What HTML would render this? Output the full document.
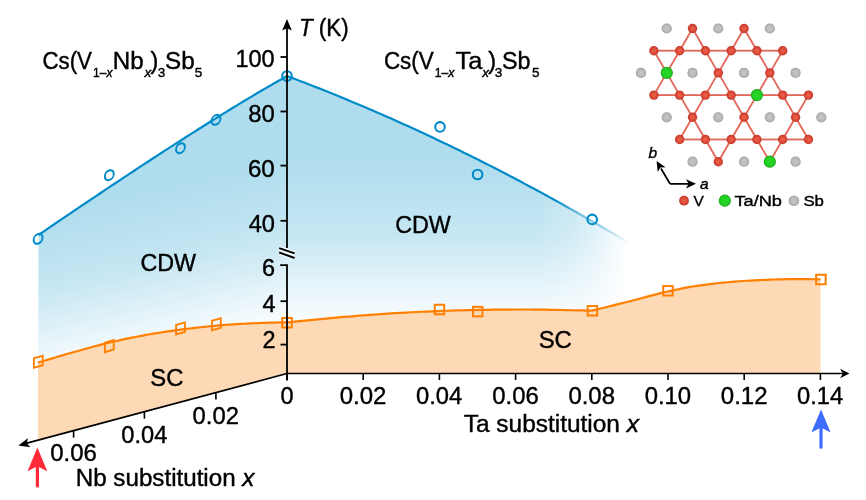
<!DOCTYPE html>
<html><head><meta charset="utf-8"><title>Phase diagram</title>
<style>html,body{margin:0;padding:0;background:#fff;width:866px;height:500px;overflow:hidden}svg{display:block;will-change:transform}</style>
</head><body>
<svg width="866" height="500" viewBox="0 0 866 500">
<defs>
<linearGradient id="gR" gradientUnits="userSpaceOnUse" x1="0" y1="160" x2="0" y2="328">
 <stop offset="0" stop-color="#b0ddee"/><stop offset="0.45" stop-color="#b0ddee" stop-opacity="0.72"/><stop offset="1" stop-color="#b0ddee" stop-opacity="0"/></linearGradient>
<linearGradient id="gL" gradientUnits="userSpaceOnUse" x1="287" y1="160" x2="322.3" y2="320.3">
 <stop offset="0" stop-color="#b0ddee"/><stop offset="0.45" stop-color="#b0ddee" stop-opacity="0.72"/><stop offset="1" stop-color="#b0ddee" stop-opacity="0"/></linearGradient>
<linearGradient id="gH" gradientUnits="userSpaceOnUse" x1="543" y1="0" x2="629" y2="0">
 <stop offset="0" stop-color="#fff"/><stop offset="0.001" stop-color="#fff" stop-opacity="0.94"/><stop offset="0.31" stop-color="#fff" stop-opacity="0.82"/><stop offset="0.55" stop-color="#fff" stop-opacity="0.6"/><stop offset="0.78" stop-color="#fff" stop-opacity="0.28"/><stop offset="1" stop-color="#fff" stop-opacity="0"/></linearGradient>
<linearGradient id="gHL" gradientUnits="userSpaceOnUse" x1="555" y1="0" x2="630" y2="0">
 <stop offset="0" stop-color="#fff"/><stop offset="0.33" stop-color="#fff" stop-opacity="0.5"/><stop offset="0.6" stop-color="#fff" stop-opacity="0.38"/><stop offset="1" stop-color="#fff" stop-opacity="0"/></linearGradient>
<mask id="mH" maskUnits="userSpaceOnUse" x="0" y="0" width="866" height="500"><rect x="0" y="0" width="866" height="500" fill="url(#gH)"/></mask>
<mask id="mHL" maskUnits="userSpaceOnUse" x="0" y="0" width="866" height="500"><rect x="0" y="0" width="866" height="500" fill="url(#gHL)"/></mask>
<radialGradient id="rr" cx="0.5" cy="0.5" r="0.5"><stop offset="0" stop-color="#ea6550"/><stop offset="0.6" stop-color="#dd4a37"/><stop offset="0.85" stop-color="#cf3f2e"/><stop offset="1" stop-color="#b53425"/></radialGradient>
<radialGradient id="rg" cx="0.5" cy="0.5" r="0.5"><stop offset="0" stop-color="#2ad82a"/><stop offset="0.7" stop-color="#22cf22"/><stop offset="0.88" stop-color="#1cb91c"/><stop offset="1" stop-color="#128f12"/></radialGradient>
<radialGradient id="rs" cx="0.5" cy="0.5" r="0.5"><stop offset="0" stop-color="#c6c6c6"/><stop offset="0.6" stop-color="#bcbcbc"/><stop offset="0.85" stop-color="#adadad"/><stop offset="1" stop-color="#9a9a9a"/></radialGradient>
</defs>
<path d="M287 76 L291.32 77.65 L295.63 79.28 L299.95 80.93 L304.27 82.59 L308.58 84.26 L312.9 85.94 L317.22 87.64 L321.53 89.35 L325.85 91.07 L330.16 92.8 L334.48 94.55 L338.8 96.3 L343.11 98.07 L347.43 99.86 L351.75 101.65 L356.06 103.46 L360.38 105.28 L364.7 107.11 L369.01 108.95 L373.33 110.81 L377.65 112.68 L381.96 114.56 L386.28 116.45 L390.59 118.36 L394.91 120.28 L399.23 122.21 L403.54 124.15 L407.86 126.11 L412.18 128.08 L416.49 130.06 L420.81 132.05 L425.13 134.06 L429.44 136.08 L433.76 138.11 L438.08 140.15 L442.39 142.2 L446.71 144.27 L451.03 146.35 L455.34 148.44 L459.66 150.55 L463.97 152.66 L468.29 154.79 L472.61 156.94 L476.92 159.09 L481.24 161.26 L485.56 163.44 L489.87 165.63 L494.19 167.83 L498.51 170.05 L502.82 172.28 L507.14 174.52 L511.46 176.77 L515.77 179.04 L520.09 181.31 L524.41 183.6 L528.72 185.91 L533.04 188.22 L537.35 190.55 L541.67 192.89 L545.99 195.24 L550.3 197.61 L554.62 199.98 L558.94 202.37 L563.25 204.78 L567.57 207.19 L571.89 209.62 L576.2 212.06 L580.52 214.51 L584.84 216.97 L589.15 219.45 L593.47 221.94 L597.78 224.44 L602.1 226.95 L606.42 229.48 L610.73 232.02 L615.05 234.57 L619.37 237.13 L623.68 239.71 L628 242.29 L640 260 L640 374 L287 374 Z" fill="url(#gR)" mask="url(#mH)"/>
<path d="M38.5 235 L43.9 231.31 L49.27 227.65 L54.59 224.03 L59.87 220.44 L65.11 216.89 L70.3 213.37 L75.46 209.88 L80.58 206.43 L85.65 203.02 L90.68 199.63 L95.68 196.29 L100.63 192.97 L105.54 189.69 L110.41 186.45 L115.23 183.24 L120.02 180.06 L124.77 176.92 L129.47 173.81 L134.14 170.74 L138.76 167.7 L143.34 164.7 L147.88 161.73 L152.38 158.79 L156.84 155.89 L161.26 153.02 L165.63 150.19 L169.97 147.39 L174.26 144.63 L178.51 141.9 L182.73 139.21 L186.9 136.55 L191.03 133.92 L195.11 131.33 L199.16 128.77 L203.17 126.25 L207.13 123.76 L211.06 121.3 L214.94 118.88 L218.78 116.5 L222.59 114.15 L226.35 111.83 L230.06 109.55 L233.74 107.3 L237.38 105.09 L240.97 102.91 L244.53 100.76 L248.04 98.65 L251.51 96.57 L254.95 94.53 L258.34 92.52 L261.69 90.55 L264.99 88.61 L268.26 86.71 L271.49 84.84 L274.67 83 L277.82 81.2 L280.92 79.43 L283.98 77.7 L287 76 L287 374 L38 440.23 Z" fill="url(#gL)"/>
<path d="M287 322.4 L292.17 321.88 L297.34 321.37 L302.51 320.85 L307.68 320.34 L312.85 319.83 L318.02 319.33 L323.19 318.84 L328.36 318.35 L333.53 317.88 L338.69 317.42 L343.86 316.97 L349.03 316.53 L354.2 316.1 L359.37 315.69 L364.54 315.29 L369.71 314.9 L374.88 314.52 L380.05 314.16 L385.22 313.81 L390.39 313.47 L395.56 313.15 L400.73 312.85 L405.9 312.55 L411.07 312.27 L416.24 312.01 L421.41 311.76 L426.58 311.53 L431.75 311.31 L436.92 311.11 L442.08 310.92 L447.25 310.75 L452.42 310.59 L457.59 310.44 L462.76 310.31 L467.93 310.18 L473.1 310.07 L478.27 309.97 L483.44 309.87 L488.61 309.79 L493.78 309.72 L498.95 309.65 L504.12 309.59 L509.29 309.55 L514.46 309.52 L519.63 309.5 L524.8 309.5 L529.97 309.51 L535.14 309.55 L540.31 309.6 L545.47 309.68 L550.64 309.78 L555.81 309.89 L560.98 310 L566.15 310.12 L571.32 310.24 L576.49 310.35 L581.66 310.45 L586.83 310.54 L592 310.6 L595.87 309.66 L599.75 308.71 L603.62 307.76 L607.49 306.8 L611.36 305.85 L615.24 304.89 L619.11 303.92 L622.98 302.96 L626.86 301.99 L630.73 301.02 L634.6 300.02 L638.47 299 L642.35 297.97 L646.22 296.93 L650.09 295.9 L653.97 294.88 L657.84 293.9 L661.71 292.94 L665.58 292.04 L669.46 291.18 L673.33 290.34 L677.2 289.51 L681.08 288.7 L684.95 287.92 L688.82 287.18 L692.69 286.5 L696.57 285.88 L700.44 285.34 L704.31 284.84 L708.19 284.36 L712.06 283.9 L715.93 283.46 L719.81 283.03 L723.68 282.63 L727.55 282.25 L731.42 281.9 L735.3 281.57 L739.17 281.27 L743.04 281 L746.92 280.77 L750.79 280.56 L754.66 280.36 L758.53 280.17 L762.41 279.98 L766.28 279.8 L770.15 279.64 L774.03 279.5 L777.9 279.38 L781.77 279.29 L785.64 279.22 L789.52 279.2 L793.39 279.2 L797.26 279.2 L801.14 279.2 L805.01 279.21 L808.88 279.22 L812.75 279.24 L816.63 279.27 L820.5 279.3 L820.5 373.5 L287 373.5 Z" fill="#fed9b5"/>
<path d="M38 362.6 L41.61 361.55 L45.22 360.5 L48.83 359.42 L52.43 358.34 L56.04 357.25 L59.65 356.17 L63.26 355.09 L66.87 354.02 L70.48 352.97 L74.09 351.95 L77.7 350.95 L81.3 349.96 L84.91 348.97 L88.52 347.98 L92.13 347 L95.74 346.04 L99.35 345.1 L102.96 344.17 L106.57 343.27 L110.17 342.39 L113.78 341.55 L117.39 340.73 L121 339.95 L124.61 339.18 L128.22 338.42 L131.83 337.68 L135.43 336.96 L139.04 336.26 L142.65 335.58 L146.26 334.92 L149.87 334.28 L153.48 333.66 L157.09 333.06 L160.7 332.49 L164.3 331.94 L167.91 331.4 L171.52 330.87 L175.13 330.35 L178.74 329.86 L182.35 329.38 L185.96 328.91 L189.57 328.47 L193.17 328.05 L196.78 327.64 L200.39 327.26 L204 326.89 L207.61 326.52 L211.22 326.15 L214.83 325.8 L218.43 325.46 L222.04 325.14 L225.65 324.83 L229.26 324.56 L232.87 324.3 L236.48 324.08 L240.09 323.9 L243.7 323.73 L247.3 323.56 L250.91 323.4 L254.52 323.24 L258.13 323.1 L261.74 322.96 L265.35 322.83 L268.96 322.72 L272.57 322.62 L276.17 322.53 L279.78 322.47 L283.39 322.42 L287 322.4 L287 373.5 L38 440.23 Z" fill="#fed9b5"/>
<path d="M287 76 L291.32 77.65 L295.63 79.28 L299.95 80.93 L304.27 82.59 L308.58 84.26 L312.9 85.94 L317.22 87.64 L321.53 89.35 L325.85 91.07 L330.16 92.8 L334.48 94.55 L338.8 96.3 L343.11 98.07 L347.43 99.86 L351.75 101.65 L356.06 103.46 L360.38 105.28 L364.7 107.11 L369.01 108.95 L373.33 110.81 L377.65 112.68 L381.96 114.56 L386.28 116.45 L390.59 118.36 L394.91 120.28 L399.23 122.21 L403.54 124.15 L407.86 126.11 L412.18 128.08 L416.49 130.06 L420.81 132.05 L425.13 134.06 L429.44 136.08 L433.76 138.11 L438.08 140.15 L442.39 142.2 L446.71 144.27 L451.03 146.35 L455.34 148.44 L459.66 150.55 L463.97 152.66 L468.29 154.79 L472.61 156.94 L476.92 159.09 L481.24 161.26 L485.56 163.44 L489.87 165.63 L494.19 167.83 L498.51 170.05 L502.82 172.28 L507.14 174.52 L511.46 176.77 L515.77 179.04 L520.09 181.31 L524.41 183.6 L528.72 185.91 L533.04 188.22 L537.35 190.55 L541.67 192.89 L545.99 195.24 L550.3 197.61 L554.62 199.98 L558.94 202.37 L563.25 204.78 L567.57 207.19 L571.89 209.62 L576.2 212.06 L580.52 214.51 L584.84 216.97 L589.15 219.45 L593.47 221.94 L597.78 224.44 L602.1 226.95 L606.42 229.48 L610.73 232.02 L615.05 234.57 L619.37 237.13 L623.68 239.71 L628 242.29" fill="none" stroke="#008bc8" stroke-width="2.2" mask="url(#mHL)"/>
<path d="M38.5 235 L43.9 231.31 L49.27 227.65 L54.59 224.03 L59.87 220.44 L65.11 216.89 L70.3 213.37 L75.46 209.88 L80.58 206.43 L85.65 203.02 L90.68 199.63 L95.68 196.29 L100.63 192.97 L105.54 189.69 L110.41 186.45 L115.23 183.24 L120.02 180.06 L124.77 176.92 L129.47 173.81 L134.14 170.74 L138.76 167.7 L143.34 164.7 L147.88 161.73 L152.38 158.79 L156.84 155.89 L161.26 153.02 L165.63 150.19 L169.97 147.39 L174.26 144.63 L178.51 141.9 L182.73 139.21 L186.9 136.55 L191.03 133.92 L195.11 131.33 L199.16 128.77 L203.17 126.25 L207.13 123.76 L211.06 121.3 L214.94 118.88 L218.78 116.5 L222.59 114.15 L226.35 111.83 L230.06 109.55 L233.74 107.3 L237.38 105.09 L240.97 102.91 L244.53 100.76 L248.04 98.65 L251.51 96.57 L254.95 94.53 L258.34 92.52 L261.69 90.55 L264.99 88.61 L268.26 86.71 L271.49 84.84 L274.67 83 L277.82 81.2 L280.92 79.43 L283.98 77.7 L287 76" fill="none" stroke="#008bc8" stroke-width="2.2"/>
<path d="M287 322.4 L292.17 321.88 L297.34 321.37 L302.51 320.85 L307.68 320.34 L312.85 319.83 L318.02 319.33 L323.19 318.84 L328.36 318.35 L333.53 317.88 L338.69 317.42 L343.86 316.97 L349.03 316.53 L354.2 316.1 L359.37 315.69 L364.54 315.29 L369.71 314.9 L374.88 314.52 L380.05 314.16 L385.22 313.81 L390.39 313.47 L395.56 313.15 L400.73 312.85 L405.9 312.55 L411.07 312.27 L416.24 312.01 L421.41 311.76 L426.58 311.53 L431.75 311.31 L436.92 311.11 L442.08 310.92 L447.25 310.75 L452.42 310.59 L457.59 310.44 L462.76 310.31 L467.93 310.18 L473.1 310.07 L478.27 309.97 L483.44 309.87 L488.61 309.79 L493.78 309.72 L498.95 309.65 L504.12 309.59 L509.29 309.55 L514.46 309.52 L519.63 309.5 L524.8 309.5 L529.97 309.51 L535.14 309.55 L540.31 309.6 L545.47 309.68 L550.64 309.78 L555.81 309.89 L560.98 310 L566.15 310.12 L571.32 310.24 L576.49 310.35 L581.66 310.45 L586.83 310.54 L592 310.6 L595.87 309.66 L599.75 308.71 L603.62 307.76 L607.49 306.8 L611.36 305.85 L615.24 304.89 L619.11 303.92 L622.98 302.96 L626.86 301.99 L630.73 301.02 L634.6 300.02 L638.47 299 L642.35 297.97 L646.22 296.93 L650.09 295.9 L653.97 294.88 L657.84 293.9 L661.71 292.94 L665.58 292.04 L669.46 291.18 L673.33 290.34 L677.2 289.51 L681.08 288.7 L684.95 287.92 L688.82 287.18 L692.69 286.5 L696.57 285.88 L700.44 285.34 L704.31 284.84 L708.19 284.36 L712.06 283.9 L715.93 283.46 L719.81 283.03 L723.68 282.63 L727.55 282.25 L731.42 281.9 L735.3 281.57 L739.17 281.27 L743.04 281 L746.92 280.77 L750.79 280.56 L754.66 280.36 L758.53 280.17 L762.41 279.98 L766.28 279.8 L770.15 279.64 L774.03 279.5 L777.9 279.38 L781.77 279.29 L785.64 279.22 L789.52 279.2 L793.39 279.2 L797.26 279.2 L801.14 279.2 L805.01 279.21 L808.88 279.22 L812.75 279.24 L816.63 279.27 L820.5 279.3" fill="none" stroke="#ff8000" stroke-width="2.2"/>
<path d="M38 362.6 L41.61 361.55 L45.22 360.5 L48.83 359.42 L52.43 358.34 L56.04 357.25 L59.65 356.17 L63.26 355.09 L66.87 354.02 L70.48 352.97 L74.09 351.95 L77.7 350.95 L81.3 349.96 L84.91 348.97 L88.52 347.98 L92.13 347 L95.74 346.04 L99.35 345.1 L102.96 344.17 L106.57 343.27 L110.17 342.39 L113.78 341.55 L117.39 340.73 L121 339.95 L124.61 339.18 L128.22 338.42 L131.83 337.68 L135.43 336.96 L139.04 336.26 L142.65 335.58 L146.26 334.92 L149.87 334.28 L153.48 333.66 L157.09 333.06 L160.7 332.49 L164.3 331.94 L167.91 331.4 L171.52 330.87 L175.13 330.35 L178.74 329.86 L182.35 329.38 L185.96 328.91 L189.57 328.47 L193.17 328.05 L196.78 327.64 L200.39 327.26 L204 326.89 L207.61 326.52 L211.22 326.15 L214.83 325.8 L218.43 325.46 L222.04 325.14 L225.65 324.83 L229.26 324.56 L232.87 324.3 L236.48 324.08 L240.09 323.9 L243.7 323.73 L247.3 323.56 L250.91 323.4 L254.52 323.24 L258.13 323.1 L261.74 322.96 L265.35 322.83 L268.96 322.72 L272.57 322.62 L276.17 322.53 L279.78 322.47 L283.39 322.42 L287 322.4" fill="none" stroke="#ff8000" stroke-width="2.2"/>
<circle cx="287" cy="76" r="4.8" fill="none" stroke="#008bc8" stroke-width="2.1"/>
<circle cx="440" cy="126.9" r="4.8" fill="none" stroke="#008bc8" stroke-width="2.1"/>
<circle cx="477.6" cy="174.5" r="4.8" fill="none" stroke="#008bc8" stroke-width="2.1"/>
<circle cx="592.2" cy="219.4" r="4.8" fill="none" stroke="#008bc8" stroke-width="2.1"/>
<circle r="4.8" fill="none" stroke="#008bc8" stroke-width="2.1" transform="matrix(0.93,-0.25,0,1,38.1,238.8)"/>
<circle r="4.8" fill="none" stroke="#008bc8" stroke-width="2.1" transform="matrix(0.93,-0.25,0,1,109.3,175.2)"/>
<circle r="4.8" fill="none" stroke="#008bc8" stroke-width="2.1" transform="matrix(0.93,-0.25,0,1,180.5,148.2)"/>
<circle r="4.8" fill="none" stroke="#008bc8" stroke-width="2.1" transform="matrix(0.93,-0.25,0,1,216,119.8)"/>
<rect x="282.25" y="317.95" width="9.5" height="9.5" fill="none" stroke="#ff8000" stroke-width="2"/>
<rect x="434.75" y="304.75" width="9.5" height="9.5" fill="none" stroke="#ff8000" stroke-width="2"/>
<rect x="472.95" y="306.85" width="9.5" height="9.5" fill="none" stroke="#ff8000" stroke-width="2"/>
<rect x="587.65" y="306.05" width="9.5" height="9.5" fill="none" stroke="#ff8000" stroke-width="2"/>
<rect x="663.25" y="286.05" width="9.5" height="9.5" fill="none" stroke="#ff8000" stroke-width="2"/>
<rect x="816.15" y="274.75" width="9.5" height="9.5" fill="none" stroke="#ff8000" stroke-width="2"/>
<rect x="-4.75" y="-4.75" width="9.5" height="9.5" fill="none" stroke="#ff8000" stroke-width="2" transform="matrix(0.93,-0.27,0,1,38.3,361.8)"/>
<rect x="-4.75" y="-4.75" width="9.5" height="9.5" fill="none" stroke="#ff8000" stroke-width="2" transform="matrix(0.93,-0.27,0,1,109.3,346.1)"/>
<rect x="-4.75" y="-4.75" width="9.5" height="9.5" fill="none" stroke="#ff8000" stroke-width="2" transform="matrix(0.93,-0.27,0,1,180.5,328.5)"/>
<rect x="-4.75" y="-4.75" width="9.5" height="9.5" fill="none" stroke="#ff8000" stroke-width="2" transform="matrix(0.93,-0.27,0,1,216.4,324.2)"/>
<path d="M287 248 L287 27" stroke="#000" stroke-width="1.8" fill="none"/>
<path d="M287 19 L291.8 30.5 L287 28.2 L282.2 30.5 Z" fill="#000"/>
<path d="M280.5 57 H287" stroke="#000" stroke-width="1.8" fill="none"/>
<path d="M280.5 111.5 H287" stroke="#000" stroke-width="1.8" fill="none"/>
<path d="M280.5 165.6 H287" stroke="#000" stroke-width="1.8" fill="none"/>
<path d="M280.5 220.8 H287" stroke="#000" stroke-width="1.8" fill="none"/>
<path d="M279.2 248.1 L294.6 253.3 M279.2 252.5 L294.6 258" stroke="#fff" stroke-opacity="0.7" stroke-width="4.5"/>
<path d="M279.2 248.1 L294.6 253.3 M279.2 252.5 L294.6 258" stroke="#000" stroke-width="1.9"/>
<path d="M280.2 265.2 H287 V379.8" stroke="#000" stroke-width="1.8" fill="none" stroke-linecap="butt"/>
<path d="M280.5 301.2 H287" stroke="#000" stroke-width="1.8" fill="none"/>
<path d="M280.5 344.6 H287" stroke="#000" stroke-width="1.8" fill="none"/>
<path d="M287 379.8 V373" stroke="#000" stroke-width="1.8" stroke-linecap="round"/>
<path d="M286 373.5 H843" stroke="#000" stroke-width="1.7"/>
<path d="M849.5 373.5 L840 368.8 L843 373.5 L840 378.2 Z" fill="#000"/>
<path d="M363.2 373.5 V380" stroke="#000" stroke-width="1.6"/>
<path d="M439.4 373.5 V380" stroke="#000" stroke-width="1.6"/>
<path d="M515.6 373.5 V380" stroke="#000" stroke-width="1.6"/>
<path d="M591.8 373.5 V380" stroke="#000" stroke-width="1.6"/>
<path d="M668 373.5 V380" stroke="#000" stroke-width="1.6"/>
<path d="M744.2 373.5 V380" stroke="#000" stroke-width="1.6"/>
<path d="M820.4 373.5 V380" stroke="#000" stroke-width="1.6"/>
<path d="M287 373.5 L25 443.72" stroke="#000" stroke-width="1.8"/>
<path d="M18.6 445.4 L27.8 438.4 L26.5 443.3 L30.1 446.9 Z" fill="#000" stroke="#000" stroke-width="0.3" stroke-linejoin="round"/>
<path d="M215.9 392.55 V399.55" stroke="#000" stroke-width="1.6"/>
<path d="M144.4 411.72 V418.72" stroke="#000" stroke-width="1.6"/>
<path d="M73.6 430.69 V437.69" stroke="#000" stroke-width="1.6"/>
<g fill="#000" stroke="#000" stroke-width="0.4" stroke-linejoin="round">
<text x="298.9" y="35.5" font-size="23.5" font-family="Liberation Sans, Arial, sans-serif" textLength="49.72" lengthAdjust="spacingAndGlyphs"><tspan font-style="italic">T</tspan> (K)</text>
<text x="235.5" y="67" font-size="23.5" font-family="Liberation Sans, Arial, sans-serif" textLength="39.12" lengthAdjust="spacingAndGlyphs">100</text>
<text x="248.15" y="121.9" font-size="23.5" font-family="Liberation Sans, Arial, sans-serif" textLength="26.59" lengthAdjust="spacingAndGlyphs">80</text>
<text x="247.9" y="176.8" font-size="23.5" font-family="Liberation Sans, Arial, sans-serif" textLength="26.84" lengthAdjust="spacingAndGlyphs">60</text>
<text x="248.65" y="231.5" font-size="23.5" font-family="Liberation Sans, Arial, sans-serif" textLength="26.29" lengthAdjust="spacingAndGlyphs">40</text>
<text x="262.02" y="276.3" font-size="23.5" font-family="Liberation Sans, Arial, sans-serif">6</text>
<text x="262.43" y="312" font-size="23.5" font-family="Liberation Sans, Arial, sans-serif">4</text>
<text x="262.4" y="347.5" font-size="23.5" font-family="Liberation Sans, Arial, sans-serif">2</text>
<text x="280.5" y="403.9" font-size="23.5" font-family="Liberation Sans, Arial, sans-serif">0</text>
<text x="339.65" y="403.9" font-size="23.5" font-family="Liberation Sans, Arial, sans-serif" textLength="46.75" lengthAdjust="spacingAndGlyphs">0.02</text>
<text x="416.05" y="403.9" font-size="23.5" font-family="Liberation Sans, Arial, sans-serif" textLength="46.25" lengthAdjust="spacingAndGlyphs">0.04</text>
<text x="492.25" y="403.9" font-size="23.5" font-family="Liberation Sans, Arial, sans-serif" textLength="46.5" lengthAdjust="spacingAndGlyphs">0.06</text>
<text x="568.45" y="403.9" font-size="23.5" font-family="Liberation Sans, Arial, sans-serif" textLength="46.5" lengthAdjust="spacingAndGlyphs">0.08</text>
<text x="644.65" y="403.9" font-size="23.5" font-family="Liberation Sans, Arial, sans-serif" textLength="46.5" lengthAdjust="spacingAndGlyphs">0.10</text>
<text x="720.85" y="403.9" font-size="23.5" font-family="Liberation Sans, Arial, sans-serif" textLength="46.75" lengthAdjust="spacingAndGlyphs">0.12</text>
<text x="797.05" y="403.8" font-size="23.5" font-family="Liberation Sans, Arial, sans-serif" textLength="46.05" lengthAdjust="spacingAndGlyphs">0.14</text>
<text x="192.55" y="423.7" font-size="23.5" font-family="Liberation Sans, Arial, sans-serif" textLength="46.35" lengthAdjust="spacingAndGlyphs">0.02</text>
<text x="121.35" y="443.1" font-size="23.5" font-family="Liberation Sans, Arial, sans-serif" textLength="46.05" lengthAdjust="spacingAndGlyphs">0.04</text>
<text x="50.15" y="460.7" font-size="23.5" font-family="Liberation Sans, Arial, sans-serif" textLength="46.7" lengthAdjust="spacingAndGlyphs">0.06</text>
<text x="463.75" y="432" font-size="23.5" font-family="Liberation Sans, Arial, sans-serif" textLength="175.22" lengthAdjust="spacingAndGlyphs">Ta substitution <tspan font-style="italic">x</tspan></text>
<text x="75.75" y="485.5" font-size="23.5" font-family="Liberation Sans, Arial, sans-serif" textLength="178.68" lengthAdjust="spacingAndGlyphs">Nb substitution <tspan font-style="italic">x</tspan></text>
<text x="140.4" y="271" font-size="23.5" font-family="Liberation Sans, Arial, sans-serif" textLength="55.67" lengthAdjust="spacingAndGlyphs">CDW</text>
<text x="395.2" y="233.1" font-size="23.5" font-family="Liberation Sans, Arial, sans-serif" textLength="55.68" lengthAdjust="spacingAndGlyphs">CDW</text>
<text x="150.3" y="385.8" font-size="23.5" font-family="Liberation Sans, Arial, sans-serif" textLength="33.16" lengthAdjust="spacingAndGlyphs">SC</text>
<text x="538.7" y="348.4" font-size="23.5" font-family="Liberation Sans, Arial, sans-serif" textLength="33.16" lengthAdjust="spacingAndGlyphs">SC</text>
<text x="42.4" y="68.9" font-size="23.5" font-family="Liberation Sans, Arial, sans-serif" textLength="49.58" lengthAdjust="spacingAndGlyphs">Cs(V</text>
<text x="93.05" y="76.6" font-size="13.5" font-family="Liberation Sans, Arial, sans-serif" textLength="19.33" lengthAdjust="spacingAndGlyphs">1–<tspan font-style="italic">x</tspan></text>
<text x="112.85" y="68.9" font-size="23.5" font-family="Liberation Sans, Arial, sans-serif" textLength="30.85" lengthAdjust="spacingAndGlyphs">Nb</text>
<text x="144.4" y="76.6" font-size="13.5" font-family="Liberation Sans, Arial, sans-serif" font-style="italic">x</text>
<text x="150.6" y="68.9" font-size="23.5" font-family="Liberation Sans, Arial, sans-serif">)</text>
<text x="157.68" y="76.6" font-size="13.5" font-family="Liberation Sans, Arial, sans-serif">3</text>
<text x="165" y="68.9" font-size="23.5" font-family="Liberation Sans, Arial, sans-serif" textLength="29.65" lengthAdjust="spacingAndGlyphs">Sb</text>
<text x="194.85" y="76.6" font-size="13.5" font-family="Liberation Sans, Arial, sans-serif">5</text>
<text x="383.9" y="68.9" font-size="23.5" font-family="Liberation Sans, Arial, sans-serif" textLength="49.88" lengthAdjust="spacingAndGlyphs">Cs(V</text>
<text x="434.65" y="76.6" font-size="13.5" font-family="Liberation Sans, Arial, sans-serif" textLength="19.73" lengthAdjust="spacingAndGlyphs">1–<tspan font-style="italic">x</tspan></text>
<text x="455.55" y="68.9" font-size="23.5" font-family="Liberation Sans, Arial, sans-serif" textLength="26.78" lengthAdjust="spacingAndGlyphs">Ta</text>
<text x="482.3" y="76.6" font-size="13.5" font-family="Liberation Sans, Arial, sans-serif" font-style="italic">x</text>
<text x="488.25" y="68.9" font-size="23.5" font-family="Liberation Sans, Arial, sans-serif">)</text>
<text x="494.77" y="76.6" font-size="13.5" font-family="Liberation Sans, Arial, sans-serif">3</text>
<text x="502" y="68.9" font-size="23.5" font-family="Liberation Sans, Arial, sans-serif" textLength="28.55" lengthAdjust="spacingAndGlyphs">Sb</text>
<text x="531.95" y="76.6" font-size="13.5" font-family="Liberation Sans, Arial, sans-serif">5</text>
<text x="648.47" y="158" font-size="15.5" font-family="Liberation Sans, Arial, sans-serif" font-style="italic">b</text>
<text x="699.95" y="188.6" font-size="15.5" font-family="Liberation Sans, Arial, sans-serif" font-style="italic">a</text>
<text x="693.45" y="205.8" font-size="15.5" font-family="Liberation Sans, Arial, sans-serif">V</text>
<text x="734.45" y="205.8" font-size="15.5" font-family="Liberation Sans, Arial, sans-serif" textLength="47.55" lengthAdjust="spacingAndGlyphs">Ta/Nb</text>
<text x="803.4" y="205.8" font-size="15.5" font-family="Liberation Sans, Arial, sans-serif" textLength="20.57" lengthAdjust="spacingAndGlyphs">Sb</text>
</g>
<line x1="653.88" y1="95.1" x2="679.64" y2="95.1" stroke="#e3685a" stroke-width="1.85"/>
<line x1="731.16" y1="95.1" x2="756.92" y2="95.1" stroke="#e3685a" stroke-width="1.85"/>
<line x1="731.16" y1="95.1" x2="744.04" y2="117.3" stroke="#e3685a" stroke-width="1.85"/>
<line x1="795.56" y1="117.3" x2="808.44" y2="139.5" stroke="#e3685a" stroke-width="1.85"/>
<line x1="795.56" y1="117.3" x2="782.68" y2="139.5" stroke="#e3685a" stroke-width="1.85"/>
<line x1="731.16" y1="139.5" x2="756.92" y2="139.5" stroke="#e3685a" stroke-width="1.85"/>
<line x1="731.16" y1="139.5" x2="718.28" y2="161.7" stroke="#e3685a" stroke-width="1.85"/>
<line x1="808.44" y1="95.1" x2="795.56" y2="117.3" stroke="#e3685a" stroke-width="1.85"/>
<line x1="666.76" y1="72.9" x2="653.88" y2="95.1" stroke="#e3685a" stroke-width="1.85"/>
<line x1="666.76" y1="72.9" x2="679.64" y2="95.1" stroke="#e3685a" stroke-width="1.85"/>
<line x1="744.04" y1="28.5" x2="756.92" y2="50.7" stroke="#e3685a" stroke-width="1.85"/>
<line x1="744.04" y1="28.5" x2="731.16" y2="50.7" stroke="#e3685a" stroke-width="1.85"/>
<line x1="679.64" y1="50.7" x2="666.76" y2="72.9" stroke="#e3685a" stroke-width="1.85"/>
<line x1="679.64" y1="50.7" x2="705.4" y2="50.7" stroke="#e3685a" stroke-width="1.85"/>
<line x1="756.92" y1="50.7" x2="782.68" y2="50.7" stroke="#e3685a" stroke-width="1.85"/>
<line x1="756.92" y1="50.7" x2="769.8" y2="72.9" stroke="#e3685a" stroke-width="1.85"/>
<line x1="679.64" y1="95.1" x2="705.4" y2="95.1" stroke="#e3685a" stroke-width="1.85"/>
<line x1="679.64" y1="95.1" x2="692.52" y2="117.3" stroke="#e3685a" stroke-width="1.85"/>
<line x1="756.92" y1="95.1" x2="744.04" y2="117.3" stroke="#e3685a" stroke-width="1.85"/>
<line x1="756.92" y1="95.1" x2="782.68" y2="95.1" stroke="#e3685a" stroke-width="1.85"/>
<line x1="744.04" y1="117.3" x2="731.16" y2="139.5" stroke="#e3685a" stroke-width="1.85"/>
<line x1="744.04" y1="117.3" x2="756.92" y2="139.5" stroke="#e3685a" stroke-width="1.85"/>
<line x1="679.64" y1="139.5" x2="705.4" y2="139.5" stroke="#e3685a" stroke-width="1.85"/>
<line x1="756.92" y1="139.5" x2="769.8" y2="161.7" stroke="#e3685a" stroke-width="1.85"/>
<line x1="756.92" y1="139.5" x2="782.68" y2="139.5" stroke="#e3685a" stroke-width="1.85"/>
<line x1="692.52" y1="28.5" x2="679.64" y2="50.7" stroke="#e3685a" stroke-width="1.85"/>
<line x1="692.52" y1="28.5" x2="705.4" y2="50.7" stroke="#e3685a" stroke-width="1.85"/>
<line x1="705.4" y1="50.7" x2="731.16" y2="50.7" stroke="#e3685a" stroke-width="1.85"/>
<line x1="705.4" y1="50.7" x2="718.28" y2="72.9" stroke="#e3685a" stroke-width="1.85"/>
<line x1="782.68" y1="50.7" x2="769.8" y2="72.9" stroke="#e3685a" stroke-width="1.85"/>
<line x1="769.8" y1="72.9" x2="756.92" y2="95.1" stroke="#e3685a" stroke-width="1.85"/>
<line x1="769.8" y1="72.9" x2="782.68" y2="95.1" stroke="#e3685a" stroke-width="1.85"/>
<line x1="705.4" y1="95.1" x2="731.16" y2="95.1" stroke="#e3685a" stroke-width="1.85"/>
<line x1="705.4" y1="95.1" x2="692.52" y2="117.3" stroke="#e3685a" stroke-width="1.85"/>
<line x1="782.68" y1="95.1" x2="795.56" y2="117.3" stroke="#e3685a" stroke-width="1.85"/>
<line x1="782.68" y1="95.1" x2="808.44" y2="95.1" stroke="#e3685a" stroke-width="1.85"/>
<line x1="692.52" y1="117.3" x2="679.64" y2="139.5" stroke="#e3685a" stroke-width="1.85"/>
<line x1="692.52" y1="117.3" x2="705.4" y2="139.5" stroke="#e3685a" stroke-width="1.85"/>
<line x1="705.4" y1="139.5" x2="731.16" y2="139.5" stroke="#e3685a" stroke-width="1.85"/>
<line x1="705.4" y1="139.5" x2="718.28" y2="161.7" stroke="#e3685a" stroke-width="1.85"/>
<line x1="782.68" y1="139.5" x2="808.44" y2="139.5" stroke="#e3685a" stroke-width="1.85"/>
<line x1="782.68" y1="139.5" x2="769.8" y2="161.7" stroke="#e3685a" stroke-width="1.85"/>
<line x1="653.88" y1="50.7" x2="666.76" y2="72.9" stroke="#e3685a" stroke-width="1.85"/>
<line x1="653.88" y1="50.7" x2="679.64" y2="50.7" stroke="#e3685a" stroke-width="1.85"/>
<line x1="731.16" y1="50.7" x2="756.92" y2="50.7" stroke="#e3685a" stroke-width="1.85"/>
<line x1="731.16" y1="50.7" x2="718.28" y2="72.9" stroke="#e3685a" stroke-width="1.85"/>
<line x1="718.28" y1="72.9" x2="731.16" y2="95.1" stroke="#e3685a" stroke-width="1.85"/>
<line x1="718.28" y1="72.9" x2="705.4" y2="95.1" stroke="#e3685a" stroke-width="1.85"/>
<circle cx="666.76" cy="28.5" r="5.1" fill="url(#rs)"/>
<circle cx="718.28" cy="28.5" r="5.1" fill="url(#rs)"/>
<circle cx="769.8" cy="28.5" r="5.1" fill="url(#rs)"/>
<circle cx="692.52" cy="28.5" r="4.7" fill="url(#rr)"/>
<circle cx="744.04" cy="28.5" r="4.7" fill="url(#rr)"/>
<circle cx="653.88" cy="50.7" r="4.7" fill="url(#rr)"/>
<circle cx="679.64" cy="50.7" r="4.7" fill="url(#rr)"/>
<circle cx="705.4" cy="50.7" r="4.7" fill="url(#rr)"/>
<circle cx="731.16" cy="50.7" r="4.7" fill="url(#rr)"/>
<circle cx="756.92" cy="50.7" r="4.7" fill="url(#rr)"/>
<circle cx="782.68" cy="50.7" r="4.7" fill="url(#rr)"/>
<circle cx="641" cy="72.9" r="5.1" fill="url(#rs)"/>
<circle cx="692.52" cy="72.9" r="5.1" fill="url(#rs)"/>
<circle cx="744.04" cy="72.9" r="5.1" fill="url(#rs)"/>
<circle cx="795.56" cy="72.9" r="5.1" fill="url(#rs)"/>
<circle cx="718.28" cy="72.9" r="4.7" fill="url(#rr)"/>
<circle cx="769.8" cy="72.9" r="4.7" fill="url(#rr)"/>
<circle cx="666.76" cy="72.9" r="6.1" fill="url(#rg)"/>
<circle cx="653.88" cy="95.1" r="4.7" fill="url(#rr)"/>
<circle cx="679.64" cy="95.1" r="4.7" fill="url(#rr)"/>
<circle cx="705.4" cy="95.1" r="4.7" fill="url(#rr)"/>
<circle cx="731.16" cy="95.1" r="4.7" fill="url(#rr)"/>
<circle cx="782.68" cy="95.1" r="4.7" fill="url(#rr)"/>
<circle cx="808.44" cy="95.1" r="4.7" fill="url(#rr)"/>
<circle cx="756.92" cy="95.1" r="6.1" fill="url(#rg)"/>
<circle cx="666.76" cy="117.3" r="5.1" fill="url(#rs)"/>
<circle cx="718.28" cy="117.3" r="5.1" fill="url(#rs)"/>
<circle cx="769.8" cy="117.3" r="5.1" fill="url(#rs)"/>
<circle cx="821.32" cy="117.3" r="5.1" fill="url(#rs)"/>
<circle cx="692.52" cy="117.3" r="4.7" fill="url(#rr)"/>
<circle cx="744.04" cy="117.3" r="4.7" fill="url(#rr)"/>
<circle cx="795.56" cy="117.3" r="4.7" fill="url(#rr)"/>
<circle cx="679.64" cy="139.5" r="4.7" fill="url(#rr)"/>
<circle cx="705.4" cy="139.5" r="4.7" fill="url(#rr)"/>
<circle cx="731.16" cy="139.5" r="4.7" fill="url(#rr)"/>
<circle cx="756.92" cy="139.5" r="4.7" fill="url(#rr)"/>
<circle cx="782.68" cy="139.5" r="4.7" fill="url(#rr)"/>
<circle cx="808.44" cy="139.5" r="4.7" fill="url(#rr)"/>
<circle cx="692.52" cy="161.7" r="5.1" fill="url(#rs)"/>
<circle cx="744.04" cy="161.7" r="5.1" fill="url(#rs)"/>
<circle cx="795.56" cy="161.7" r="5.1" fill="url(#rs)"/>
<circle cx="718.28" cy="161.7" r="4.7" fill="url(#rr)"/>
<circle cx="769.8" cy="161.7" r="6.1" fill="url(#rg)"/>
<path d="M670 183.8 H689 M670 183.8 L661 168.5" stroke="#000" stroke-width="1.8" fill="none"/>
<path d="M696 183.8 L686 179.2 L688.6 183.8 L686 188.4 Z" fill="#000"/>
<path d="M656.6 161 L657.7 171.9 L660.4 167.4 L665.5 167.3 Z" fill="#000"/>
<circle cx="684" cy="200.7" r="4.9" fill="url(#rr)"/>
<circle cx="724.8" cy="200.7" r="6.1" fill="url(#rg)"/>
<circle cx="793.9" cy="200.7" r="5.3" fill="url(#rs)"/>
<path d="M37.4 466 V486" stroke="#ff2a36" stroke-width="3.2" stroke-linecap="round"/>
<path d="M37.4 447.4 L47.3 471.2 L37.4 466.2 L27.5 471.2 Z" fill="#ff2a36"/>
<path d="M821 427 V447.2" stroke="#3d6dff" stroke-width="3.2" stroke-linecap="round"/>
<path d="M821 409.6 L830.6 432.4 L821 427.4 L811.4 432.4 Z" fill="#3d6dff"/>
</svg>
</body></html>
